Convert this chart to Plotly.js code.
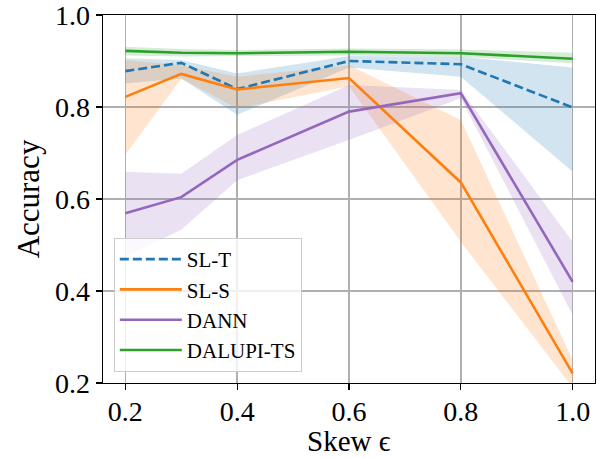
<!DOCTYPE html>
<html>
<head>
<meta charset="utf-8">
<script src="https://cdn.plot.ly/plotly-3.0.1.min.js"></script>
<style>html,body{margin:0;padding:0;background:#fff;}#chart{width:597px;height:458px;}</style>
</head>
<body>
<div id="chart"></div>
<script>
const skew = [0.2, 0.3, 0.4, 0.6, 0.8, 1.0];

const slT      = [0.878, 0.896, 0.839, 0.900, 0.893, 0.799];
const slTHigh  = [0.906, 0.902, 0.873, 0.911, 0.909, 0.886];
const slTLow   = [0.851, 0.862, 0.783, 0.886, 0.866, 0.659];

const slS      = [0.822, 0.872, 0.838, 0.863, 0.636, 0.221];
const slSHigh  = [0.902, 0.891, 0.866, 0.891, 0.772, 0.250];
const slSLow   = [0.696, 0.862, 0.797, 0.845, 0.507, 0.190];

const dann     = [0.569, 0.604, 0.685, 0.790, 0.830, 0.420];
const dannHigh = [0.659, 0.655, 0.739, 0.848, 0.837, 0.507];
const dannLow  = [0.475, 0.533, 0.641, 0.728, 0.819, 0.348];

const dalupi     = [0.922, 0.918, 0.917, 0.920, 0.917, 0.905];
const dalupiHigh = [0.931, 0.926, 0.924, 0.927, 0.925, 0.918];
const dalupiLow  = [0.912, 0.910, 0.910, 0.912, 0.909, 0.895];

const tickVals = [0.2, 0.4, 0.6, 0.8, 1.0];
const tickText = ['0.2', '0.4', '0.6', '0.8', '1.0'];

const names = ['SL-T', 'SL-S', 'DANN', 'DALUPI-TS'];
const colors = ['#1f77b4', '#ff7f0e', '#9467bd', '#2ca02c'];
const fills = ['rgba(31,119,180,0.2)', 'rgba(255,127,14,0.2)', 'rgba(148,103,189,0.2)', 'rgba(44,160,44,0.2)'];
const means = [slT, slS, dann, dalupi];
const highs = [slTHigh, slSHigh, dannHigh, dalupiHigh];
const lows = [slTLow, slSLow, dannLow, dalupiLow];
const dashes = ['9px,4px', 'solid', 'solid', 'solid'];

const traces = [];
for (let i = 0; i < 4; i++) {
  traces.push({
    x: skew.concat(skew.slice().reverse()),
    y: highs[i].concat(lows[i].slice().reverse()),
    type: 'scatter', mode: 'lines', fill: 'toself',
    fillcolor: fills[i], line: {width: 0, color: 'rgba(0,0,0,0)'},
    showlegend: false, hoverinfo: 'skip'
  });
}
for (let i = 0; i < 4; i++) {
  traces.push({
    x: skew, y: means[i], type: 'scatter', mode: 'lines', name: names[i],
    line: {color: colors[i], width: 2.6, dash: dashes[i]}
  });
}

const font = 'Liberation Serif, Times New Roman, serif';
const axisCommon = {
  tickvals: tickVals, ticktext: tickText,
  showgrid: true, gridcolor: '#b0b0b0', gridwidth: 1.6,
  zeroline: false, showline: true, linecolor: '#000', linewidth: 1.3, mirror: true,
  ticks: 'outside', ticklen: 6, tickwidth: 1.3, tickcolor: '#000',
  tickfont: {family: font, size: 28},
  ticklabeloverflow: 'allow'
};
const layout = {
  width: 597, height: 458,
  margin: {l: 103, r: 2, t: 15, b: 75},
  paper_bgcolor: '#fff', plot_bgcolor: '#fff',
  font: {family: font, color: '#000', size: 28},
  showlegend: true,
  xaxis: Object.assign({}, axisCommon, {
    range: [0.16, 1.04],
    ticklabelstandoff: -3
  }),
  yaxis: Object.assign({}, axisCommon, {
    range: [0.2, 1.0],
    title: {text: 'Accuracy', font: {family: font, size: 31}, standoff: 6}
  }),
  annotations: [{
    text: 'Skew ϵ', xref: 'paper', yref: 'paper', x: 0.5, y: -0.2025,
    xanchor: 'center', yanchor: 'bottom', showarrow: false, borderpad: 0,
    font: {family: font, size: 29, color: '#000'}
  }],
  legend: {
    x: 0.022, y: 0.03, xanchor: 'left', yanchor: 'bottom',
    bgcolor: 'rgba(255,255,255,0.8)', bordercolor: '#cccccc', borderwidth: 1,
    font: {family: font, size: 21}, itemwidth: 62
  }
};

Plotly.newPlot('chart', traces, layout, {displayModeBar: false, staticPlot: true});
</script>
</body>
</html>
